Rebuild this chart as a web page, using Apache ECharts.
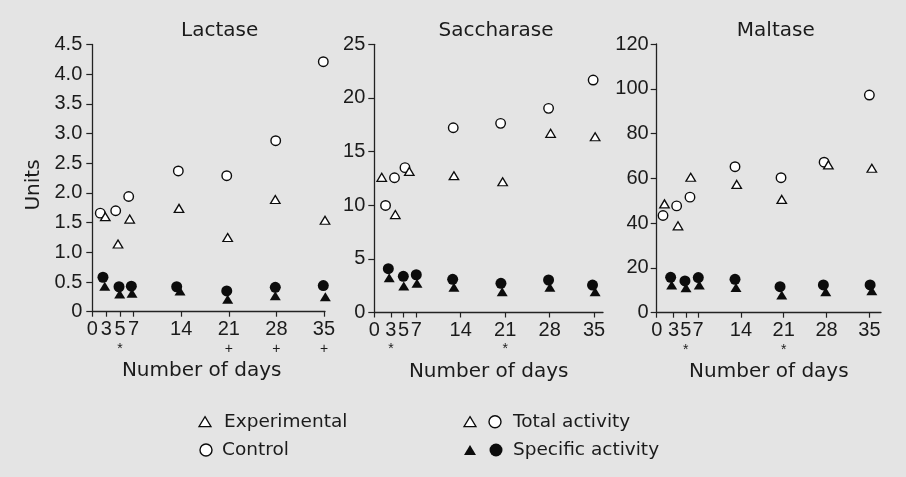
<!DOCTYPE html>
<html>
<head>
<meta charset="utf-8">
<script src="https://cdn.jsdelivr.net/npm/echarts@6/dist/echarts.min.js"></script>
<style>
  html, body { margin: 0; padding: 0; background: #e4e4e4; }
  #chart { width: 906px; height: 477px; }
</style>
</head>
<body>
<div id="chart"></div>
<script>
// ---------- tick labels ----------
const xTickDays   = [0, 3, 5, 7, 14, 21, 28, 35];
const xTickLabels = ['0', '3', '5', '7', '14', '21', '28', '35'];
const lactaseSig    = ['', '', '*', '', '', '+', '+', '+'];
const saccharaseSig = ['', '*', '', '', '', '*', '', ''];
const maltaseSig    = ['', '', '*', '', '', '*', '', ''];

const lactaseYLabels    = ['0', '0.5', '1.0', '1.5', '2.0', '2.5', '3.0', '3.5', '4.0', '4.5'];
const saccharaseYLabels = ['0', '5', '10', '15', '20', '25'];
const maltaseYLabels    = ['0', '20', '40', '60', '80', '100', '120'];

const panelTitles = ['Lactase', 'Saccharase', 'Maltase'];

// ---------- data (x = day position as drawn, y = units) ----------
// Lactase
const lacCtrlTotalX = [2.1, 4.37, 6.28, 13.58, 20.7, 27.9, 34.9];
const lacCtrlTotalY = [1.66, 1.70, 1.94, 2.37, 2.29, 2.88, 4.21];
const lacExpTotalX  = [2.84, 4.71, 6.43, 13.68, 20.84, 27.84, 35.15];
const lacExpTotalY  = [1.60, 1.14, 1.56, 1.74, 1.25, 1.89, 1.54];
const lacCtrlSpecX  = [2.5, 4.86, 6.67, 13.34, 20.7, 27.84, 34.9];
const lacCtrlSpecY  = [0.58, 0.42, 0.43, 0.42, 0.35, 0.41, 0.44];
const lacExpSpecX   = [2.76, 4.96, 6.77, 13.83, 20.84, 27.84, 35.2];
const lacExpSpecY   = [0.43, 0.30, 0.31, 0.35, 0.21, 0.27, 0.25];
// Saccharase
const sacCtrlTotalX = [2.16, 3.57, 5.22, 12.82, 20.28, 27.83, 34.85];
const sacCtrlTotalY = [9.98, 12.56, 13.5, 17.22, 17.63, 19.03, 21.67];
const sacExpTotalX  = [1.56, 3.7, 5.9, 12.93, 20.6, 28.15, 35.16];
const sacExpTotalY  = [12.6, 9.13, 13.15, 12.75, 12.19, 16.7, 16.38];
const sacCtrlSpecX  = [2.6, 4.96, 7.0, 12.73, 20.33, 27.83, 34.75];
const sacCtrlSpecY  = [4.08, 3.37, 3.52, 3.09, 2.72, 3.03, 2.56];
const sacExpSpecX   = [2.74, 5.03, 7.11, 12.93, 20.53, 28.04, 35.16];
const sacExpSpecY   = [3.23, 2.47, 2.72, 2.35, 1.94, 2.35, 1.94];
// Maltase
const malCtrlTotalX = [1.27, 3.5, 5.68, 13.04, 20.56, 27.6, 35.0];
const malCtrlTotalY = [43.4, 47.7, 51.6, 65.2, 60.3, 67.2, 97.2];
const malExpTotalX  = [1.51, 3.72, 5.8, 13.32, 20.68, 28.3, 35.4];
const malExpTotalY  = [48.6, 38.8, 60.5, 57.3, 50.6, 66.0, 64.5];
const malCtrlSpecX  = [2.52, 4.86, 7.04, 13.04, 20.4, 27.48, 35.12];
const malCtrlSpecY  = [15.8, 14.2, 15.7, 14.9, 11.6, 12.4, 12.4];
const malExpSpecX   = [2.69, 5.03, 7.2, 13.2, 20.68, 27.87, 35.4];
const malExpSpecY   = [12.4, 11.1, 12.4, 11.3, 7.9, 9.4, 9.8];

// ---------- layout ----------
const TXT = '#1b1b1b';
const INK = '#0c0c0c';
const WORD_FONT = 'DejaVu Sans';
const NUM_FONT = 'Liberation Sans';
const zip = (xs, ys) => xs.map((x, i) => [x, ys[i]]);

const panels = [
  { title: panelTitles[0], titleX: 214.7, left: 92.3, width: 232.7, top: 44.5, height: 267.2,
    xmin: 0.93, xmax: 35.15, ymax: 4.5, yint: 0.5, yLabels: lactaseYLabels, sig: lactaseSig, yMargin: 10, namePad: [0, 14, 0, 0],
    ct: zip(lacCtrlTotalX, lacCtrlTotalY), et: zip(lacExpTotalX, lacExpTotalY),
    cs: zip(lacCtrlSpecX, lacCtrlSpecY), es: zip(lacExpSpecX, lacExpSpecY) },
  { title: panelTitles[1], titleX: 491, left: 374.3, width: 228.7, top: 44.3, height: 268.2,
    xmin: 0.39, xmax: 36.4, ymax: 25, yint: 5, yLabels: saccharaseYLabels, sig: saccharaseSig, yMargin: 9, namePad: [0, 0, 0, 0],
    ct: zip(sacCtrlTotalX, sacCtrlTotalY), et: zip(sacExpTotalX, sacExpTotalY),
    cs: zip(sacCtrlSpecX, sacCtrlSpecY), es: zip(sacExpSpecX, sacExpSpecY) },
  { title: panelTitles[2], titleX: 770.8, left: 656.7, width: 224.3, top: 44, height: 268.7,
    xmin: 0.24, xmax: 36.9, ymax: 120, yint: 20, yLabels: maltaseYLabels, sig: maltaseSig, yMargin: 8, namePad: [0, 0, 0, 0],
    ct: zip(malCtrlTotalX, malCtrlTotalY), et: zip(malExpTotalX, malExpTotalY),
    cs: zip(malCtrlSpecX, malCtrlSpecY), es: zip(malExpSpecX, malExpSpecY) }
];

const grid = [], xAxis = [], yAxis = [], series = [], title = [];
const axisLine = { show: true, onZero: false, lineStyle: { color: '#222', width: 1.3 } };

panels.forEach((p, k) => {
  grid.push({ left: p.left, top: p.top, width: p.width, height: p.height });
  title.push({ text: p.title, left: p.titleX, top: 16, textAlign: 'center', padding: 5,
    textStyle: { fontFamily: WORD_FONT, fontSize: 20, fontWeight: 'normal', color: TXT } });
  const tickVals = xTickDays.map(d => Math.max(d, p.xmin));
  const idxOf = v => tickVals.findIndex(t => Math.abs(t - v) < 1e-6);
  xAxis.push({
    gridIndex: k, type: 'value', min: p.xmin, max: p.xmax,
    axisLine: axisLine,
    axisTick: { show: true, length: 5, customValues: tickVals, lineStyle: { color: '#222', width: 1.2 } },
    axisLabel: {
      customValues: tickVals, margin: 7, color: TXT,
      formatter: v => {
        const i = idxOf(v);
        if (i < 0) return '';
        const s = p.sig[i];
        return '{n|' + xTickLabels[i] + '}' + (s ? '\n{s|' + s + '}' : '');
      },
      rich: {
        n: { fontFamily: NUM_FONT, fontSize: 20, lineHeight: 22, color: TXT },
        s: { fontFamily: NUM_FONT, fontSize: 14, lineHeight: 16, color: TXT }
      }
    },
    splitLine: { show: false },
    name: 'Number of days', nameLocation: 'middle', nameGap: 43,
    nameTextStyle: { fontFamily: WORD_FONT, fontSize: 20, color: TXT, padding: p.namePad }
  });
  yAxis.push({
    gridIndex: k, type: 'value', min: 0, max: p.ymax, interval: p.yint,
    axisLine: axisLine,
    axisTick: { show: true, length: 6, lineStyle: { color: '#222', width: 1.2 } },
    axisLabel: {
      margin: p.yMargin, color: TXT, fontFamily: NUM_FONT, fontSize: 20,
      formatter: v => p.yLabels[Math.round(v / p.yint)]
    },
    splitLine: { show: false }
  });
  const base = { type: 'scatter', xAxisIndex: k, yAxisIndex: k, clip: false, silent: true, emphasis: { disabled: true } };
  series.push(Object.assign({}, base, { name: 'Experimental specific', data: p.es, symbol: 'triangle', symbolSize: [11, 9],
    itemStyle: { color: INK, borderWidth: 0, opacity: 1 }, z: 2 }));
  series.push(Object.assign({}, base, { name: 'Control specific', data: p.cs, symbol: 'circle', symbolSize: 11,
    itemStyle: { color: INK, borderWidth: 0, opacity: 1 }, z: 3 }));
  series.push(Object.assign({}, base, { name: 'Control total', data: p.ct, symbol: 'circle', symbolSize: 9.5,
    itemStyle: { color: '#fff', borderColor: INK, borderWidth: 1.4, opacity: 1 }, z: 4 }));
  series.push(Object.assign({}, base, { name: 'Experimental total', data: p.et, symbol: 'triangle', symbolSize: [9.5, 8],
    itemStyle: { color: '#fff', borderColor: INK, borderWidth: 1.3, opacity: 1 }, z: 5 }));
});

// ---------- legend & y-axis name drawn as graphics ----------
const tri = (cx, cy, w, h, fill) => ({
  type: 'polygon', shape: { points: [[cx, cy - h / 2], [cx + w / 2, cy + h / 2], [cx - w / 2, cy + h / 2]] },
  style: { fill: fill, stroke: INK, lineWidth: fill === '#fff' ? 1.3 : 0 }, silent: true
});
const circ = (cx, cy, r, fill) => ({
  type: 'circle', shape: { cx: cx, cy: cy, r: r },
  style: { fill: fill, stroke: INK, lineWidth: fill === '#fff' ? 1.4 : 0 }, silent: true
});
const label = (x, y, text) => ({
  type: 'text', x: x, y: y, silent: true,
  style: { text: text, fill: TXT, font: '18.5px "' + WORD_FONT + '"', textAlign: 'left', textVerticalAlign: 'middle' }
});

const graphic = [
  { type: 'text', x: 33.5, y: 185, rotation: Math.PI / 2, silent: true,
    style: { text: 'Units', fill: TXT, font: '20px "' + WORD_FONT + '"', textAlign: 'center', textVerticalAlign: 'middle' } },
  tri(205, 421.7, 12, 10, '#fff'), label(224, 421.7, 'Experimental'),
  circ(206, 450, 6, '#fff'), label(222, 450, 'Control'),
  tri(470, 421.7, 12, 10, '#fff'), circ(495, 421.7, 6, '#fff'), label(513, 421.7, 'Total activity'),
  tri(470, 450, 12, 10, INK), circ(496, 450, 6.5, INK), label(513, 450, 'Specific activity')
];

const chart = echarts.init(document.getElementById('chart'), null, { renderer: 'canvas' });
chart.setOption({
  backgroundColor: '#e4e4e4',
  animation: false,
  title: title,
  grid: grid,
  xAxis: xAxis,
  yAxis: yAxis,
  series: series,
  graphic: graphic
});
</script>
</body>
</html>
